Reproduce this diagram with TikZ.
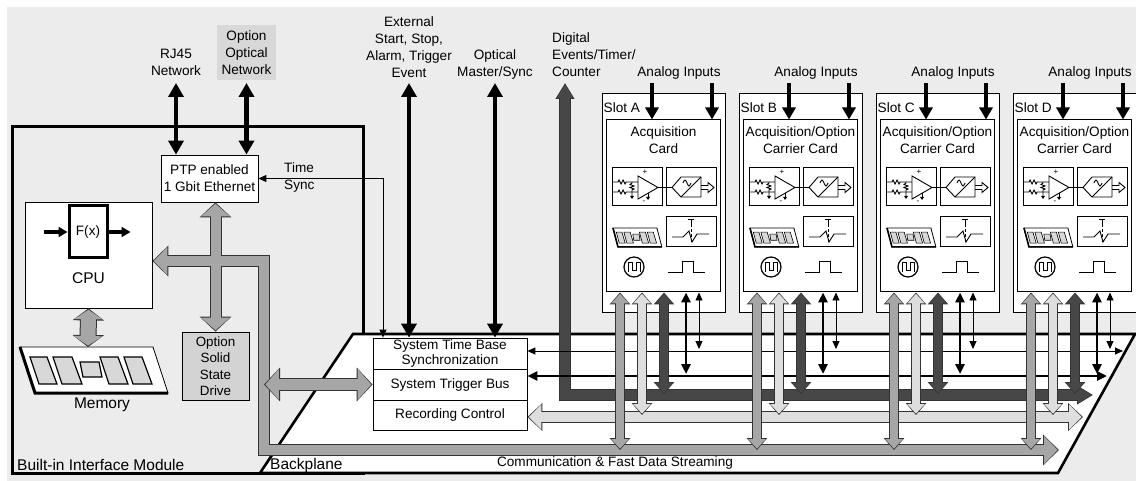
\documentclass[tikz,border=0pt]{standalone}
\usepackage{fontspec}
\setmainfont{Liberation Sans}
\usetikzlibrary{arrows.meta,positioning}

\definecolor{bggray}{HTML}{ECECEC}
\definecolor{optgray}{HTML}{D8D8D8}
\definecolor{ssdgray}{HTML}{D3D3D3}
\definecolor{lightbus}{HTML}{DEDEDE}
\definecolor{midbus}{HTML}{A6A6A6}
\definecolor{darkbus}{HTML}{474747}
\definecolor{busedge}{HTML}{333333}

% outlined bus arrows: fill, shaft, head width, head length, path
\newcommand\busout[5]{%
  \pgfmathsetmacro\bw{#2+2}%
  \draw[busedge, line width=\bw pt, line join=miter,
    >={Triangle[width=#3pt,length=#4pt]}, <->] #5;}
\newcommand\busin[5]{%
  \pgfmathsetmacro\hw{#3-3}\pgfmathsetmacro\hl{#4-2.4}%
  \draw[#1, line width=#2pt, line join=miter, shorten <=1.3pt, shorten >=1.3pt,
    >={Triangle[width=\hw pt,length=\hl pt]}, <->] #5;}
\newcommand\busarrow[5]{\busout{#1}{#2}{#3}{#4}{#5}\busin{#1}{#2}{#3}{#4}{#5}}

\tikzset{
  box/.style={draw, fill=white, line width=0.8pt},
  big/.style={font=\fontsize{15.5}{18}\selectfont},
  sig/.style={line width=4.5pt, >={Triangle[width=15pt,length=14pt]}, <->},
  ain/.style={line width=3.5pt, >={Triangle[width=13pt,length=12pt]}, ->},
  thinsig/.style={line width=0.9pt, >={Triangle[width=7pt,length=8pt]}, <->},
  trigsig/.style={line width=2.6pt, >={Triangle[width=9pt,length=10pt]}, <->},
  icon/.style={line width=0.9pt},
  memthick/.style={line width=3pt},
  memchip/.style={line width=1.2pt},
  pics/memstick/.style={code={
    \draw[fill=white, line width=0.8pt] (0,0) -- (133,0) -- (148,46) -- (15,46) -- cycle;
    \draw[memthick, line join=miter] (0,0) -- (15,46) -- (148,46);
    \foreach \p/\q in {10/27,33/52,80/98,104/122}
      \draw[memchip, fill=optgray] (\p,10) -- (\q,10) -- (\q+10,37) -- (\p+9,37) -- cycle;
    \draw[memchip, fill=optgray] (60,15) -- (79,15) -- (82,30) -- (63,30) -- cycle;
  }},
}

\begin{document}
\begin{tikzpicture}[x=1pt, y=-1pt, font=\fontsize{13.6}{17}\selectfont,
  every node/.style={inner sep=0pt, align=center}]
\useasboundingbox (0,0) rectangle (1136,481);
\fill[bggray] (7,7) rectangle (1136,481);

% module and backplane
\draw[line width=3pt, fill=bggray] (12,127) rectangle (363,473);
\draw[line width=2.6pt, line join=miter, fill=white] (353,334) -- (1135,334) -- (1058,473) -- (260,473) -- cycle;
\node[big, anchor=west] at (17,465) {Built-in Interface Module};
\node[big, anchor=west] at (270,465) {Backplane};
\node at (615,463) {Communication \& Fast Data Streaming};

% outside connections
\node (rj) at (176,62) {RJ45\\Network};
\node[fill=optgray, minimum width=59pt, minimum height=55pt] (opt) at (246.5,52.5) {Option\\Optical\\Network};
\node (ext) at (409,47) {External\\Start, Stop,\\Alarm, Trigger\\Event};
\node (oms) at (495,64) {Optical\\Master/Sync};
\node[anchor=west, align=left] (dig) at (552,55) {Digital\\Events/Timer/\\Counter};
\coordinate (top) at (0,83);

% interface module blocks
\node[box, minimum width=97pt, minimum height=47pt] (ptp) at (209.5,178.5) {PTP enabled\\1 Gbit Ethernet};
\node[anchor=west, align=left] (tsl) at (284,177.5) {Time\\Sync};
\node[box, minimum width=127pt, minimum height=106pt] (cpu) at (88.5,255) {};
\node[box, line width=3pt, minimum width=38pt, minimum height=52pt] (fx) at (88,232) {F(x)};
\node[big, above=25pt of cpu.south] {CPU};
\draw[line width=3.5pt, -{Triangle[width=10pt,length=9pt]}] ([xshift=-24pt]fx.west) -- (fx.west);
\draw[line width=3.5pt, -{Triangle[width=10pt,length=9pt]}] (fx.east) -- ([xshift=22pt]fx.east);
\node[box, fill=ssdgray, minimum width=67pt, minimum height=68pt, font=\fontsize{13.4}{16.5}\selectfont] (ssd) at (215.5,366) {Option\\Solid\\State\\Drive};
\pic at (20,347) {memstick};
\coordinate (memtop) at (88,347);
\node[big] at (102,405) {Memory};

% backplane blocks
\node[box, minimum width=154pt, minimum height=31pt, font=\fontsize{13.6}{14.5}\selectfont] (stb) at (450,353.5) {System Time Base\\Synchronization};
\node[box, minimum width=154pt, minimum height=31pt] (stbus) at (450,384.5) {System Trigger Bus};
\node[box, minimum width=154pt, minimum height=30pt] (rec) at (450,415) {Recording Control};

% data buses
\coordinate (cb) at (264,450);
\coordinate (cbR) at (1059,450);
\busout{midbus}{10}{30}{16}{([yshift=-6pt]cpu.east) -| (cb) -- (cbR)}
\busout{midbus}{10}{31}{15}{(ssd.north |- ptp.south) -- (ssd.north)}
\busin{midbus}{10}{30}{16}{([yshift=-6pt]cpu.east) -| (cb) -- (cbR)}
\busin{midbus}{10}{31}{15}{(ssd.north |- ptp.south) -- (ssd.north)}
\busarrow{midbus}{15}{31}{12}{(cpu.south) -- (memtop)}
\busarrow{midbus}{11}{33}{16}{(cb |- stbus.west) -- (stbus.west)}

\coordinate (dk) at (565,83);
\coordinate (tbR) at (1123,351);
\coordinate (trR) at (1107,376);
\coordinate (dkR) at (1093,395);
\coordinate (rcR) at (1083,417);
\busarrow{darkbus}{10}{18}{16}{(dk) |- (dkR)}
\draw[thinsig] (stb.east |- tbR) -- (tbR);
\draw[trigsig] (stbus.east |- trR) -- (trR);
\busarrow{lightbus}{10}{27}{15}{(rec.east |- rcR) -- (rcR)}

% slots
\foreach \i/\s in {0/A,1/B,2/C,3/D}{
  \pgfmathsetmacro\xs{602+137*\i}
  \begin{scope}[shift={(\xs,0)}]
    \draw[line width=0.8pt, fill=white] (0,93) rectangle (123,312);
    \node[anchor=west] at (1.5,108) {Slot \s};
    \node at (77,73) {Analog Inputs};
    \node[box, line width=1pt, minimum width=114pt, minimum height=172pt] (card\s) at (61.5,206) {};
    \node[below=7pt of card\s.north] {\ifnum\i=0 Acquisition\\Card\else Acquisition/Option\\Carrier Card\fi};
    \coordinate (inL) at (50,83);
    \coordinate (inR) at (110,83);
    \draw[ain] (inL) -- (inL |- card\s.north);
    \draw[ain] (inR) -- (inR |- card\s.north);
    % card symbols
    \begin{scope}[shift={(5,120)}, icon]
      \draw (5,47) rectangle (55,85);
      \draw (5,62) -- (11,62) -- (12,60) -- (14,64) -- (16,60) -- (18,64) -- (19,62) -- (31,62);
      \draw (5,72) -- (11,72) -- (12,70) -- (14,74) -- (16,70) -- (18,74) -- (19,72) -- (31,72);
      \draw (25,62) -- (25,63) -- (23,64.5) -- (27,66) -- (23,67.5) -- (27,69) -- (25,70) -- (25,76);
      \fill (23,76) -- (27,76) -- (25,79) -- cycle;
      \draw[fill=white] (31,56) -- (31,79) -- (51,67.5) -- cycle;
      \draw (41,73) -- (41,77);
      \fill (39,77) -- (43,77) -- (41,80) -- cycle;
      \node[font=\fontsize{8}{8}\selectfont] at (38,52) {+};
      \node[font=\fontsize{8}{8}\selectfont] at (37,82) {-};
      \draw (51,67.5) -- (65,67.5);
      \draw (59,47) rectangle (109,85);
      \draw (65,67.5) -- (74,57) -- (94,57) -- (94,77) -- (74,77) -- cycle;
      \draw (74,77) -- (94,57);
      \draw (76,63) sin (78,60) cos (80,63) sin (82,66) cos (84,63);
      \draw (94,65.5) -- (101,65.5) -- (101,62.5) -- (107,67.5) -- (101,72.5) -- (101,69.5) -- (94,69.5);
      \pic[xscale=0.33, yscale=0.41, memthick/.style={line width=1.6pt}, memchip/.style={line width=0.6pt}] at (6,108) {memstick};
      \draw (59,96) rectangle (109,126);
      \draw (81,99) -- (87,99) (84,99) -- (84,104);
      \draw[densely dashed, line width=0.5pt] (84,104) -- (84,124);
      \draw (65,117) -- (76,117) -- (82,111) -- (85,122) -- (90,114) -- (102,114);
      \draw[line width=1.2pt] (27,147) circle [radius=10];
      \draw (21,152) -- (21,142) -- (25,142) -- (25,150) -- (29,150) -- (29,142) -- (33,142) -- (33,152);
      \draw (61,152) -- (75,152) -- (75,141) -- (86,141) -- (86,152) -- (98,152);
    \end{scope}
    % links to backplane
    \coordinate (vm) at (18,450);
    \coordinate (vl) at (40,415);
    \coordinate (vd) at (62,394);
    \coordinate (vt) at (84,374);
    \coordinate (vs) at (97,349);
    \busarrow{midbus}{8}{20}{12}{(vm |- card\s.south) -- (vm)}
    \busarrow{lightbus}{8}{20}{12}{(vl |- card\s.south) -- (vl)}
    \busarrow{darkbus}{8}{20}{12}{(vd |- card\s.south) -- (vd)}
    \draw[trigsig] (vt |- card\s.south) -- (vt);
    \draw[thinsig] (vs |- card\s.south) -- (vs);
  \end{scope}
}

% signal lines
\coordinate (ts) at (383,0);
\draw[sig] (rj |- top) -- (rj |- ptp.north);
\draw[sig] (opt |- top) -- (opt |- ptp.north);
\draw[sig] (ext |- top) -- (ext |- stb.north);
\draw[sig] (oms |- top) -- (oms |- stb.north);
\draw[thinsig] (ptp.east) -| (ts |- stb.north);
\end{tikzpicture}
\end{document}
